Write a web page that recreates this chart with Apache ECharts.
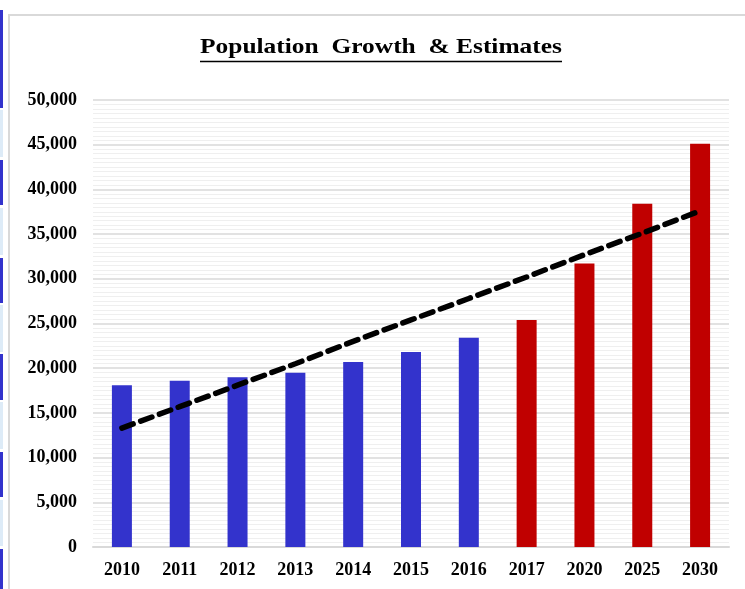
<!DOCTYPE html>
<html>
<head>
<meta charset="utf-8">
<script src="https://cdn.jsdelivr.net/npm/echarts@6/dist/echarts.min.js"></script>
<style>
html,body{margin:0;padding:0;background:#fff;}
#chart{width:745px;height:589px;}
</style>
</head>
<body>
<div id="chart"></div>
<script>
const categories = ['2010','2011','2012','2013','2014','2015','2016','2017','2020','2025','2030'];
const population = [18100, 18600, 19000, 19500, 20700, 21800, 23400, 25400, 31700, 38400, 45100];
const trend = [13300, 15700, 18100, 20500, 23000, 25400, 27800, 30200, 32700, 35100, 37600];
const kind = ['actual','actual','actual','actual','actual','actual','actual','estimate','estimate','estimate','estimate'];
const yTicks = [0, 5000, 10000, 15000, 20000, 25000, 30000, 35000, 40000, 45000, 50000];
const titleText = 'Population  Growth  & Estimates';

const chart = echarts.init(document.getElementById('chart'));
const serif = '"Liberation Serif","Times New Roman",serif';

// measure title width for underline
const ctx = document.createElement('canvas').getContext('2d');
ctx.font = 'bold 21px "Liberation Serif"';
const tw = ctx.measureText(titleText).width;
const targetW = 362;
const sx = targetW / tw;
const tcx = 381;

// left strip (neighbouring sheet edge)
const strip = [];
const stripBlue = [[10,108],[160,205],[258,303],[354,400],[452,497],[549,589]];
const stripLight = [[110,157],[208,255],[305,352],[402,449],[500,546]];
stripBlue.forEach(s => strip.push({type:'rect', shape:{x:0,y:s[0],width:3,height:s[1]-s[0]}, style:{fill:'#3333CC'}, silent:true}));
stripLight.forEach(s => strip.push({type:'rect', shape:{x:0,y:s[0],width:3,height:s[1]-s[0]}, style:{fill:'#DDEBF7'}, silent:true}));

chart.setOption({
  animation: false,
  backgroundColor: '#fff',
  grid: {left: 93, right: 16, top: 100, bottom: 42, containLabel: false},
  graphic: [
    {type:'rect', shape:{x:9,y:15,width:800,height:700}, style:{fill:'none', stroke:'#d9d9d9', lineWidth:2}, silent:true},
    ...strip,
    {type:'text', x: tcx, y: 58, scaleX: sx, scaleY: 1, style:{text:titleText, font:'bold 21px "Liberation Serif"', fill:'#000', textAlign:'center', textVerticalAlign:'bottom'}},
    {type:'line', shape:{x1:tcx - targetW/2, y1:61.5, x2:tcx + targetW/2, y2:61.5}, style:{stroke:'#000', lineWidth:1.5}}
  ],
  xAxis: {
    type: 'category',
    data: categories,
    boundaryGap: true,
    axisLine: {lineStyle: {color: '#d9d9d9', width: 2}},
    axisTick: {show: false},
    axisLabel: {color: '#000', fontFamily: serif, fontWeight: 'bold', fontSize: 18, margin: 14}
  },
  yAxis: {
    type: 'value',
    min: yTicks[0],
    max: yTicks[yTicks.length-1],
    interval: 5000,
    axisLine: {show: false},
    axisTick: {show: false},
    axisLabel: {
      color: '#000', fontFamily: serif, fontWeight: 'bold', fontSize: 18, margin: 16,
      formatter: v => v.toLocaleString('en-US')
    },
    splitLine: {lineStyle: {color: '#d9d9d9', width: 1.5}},
    minorTick: {show: false, splitNumber: 10},
    minorSplitLine: {show: true, lineStyle: {color: '#efefef', width: 1}}
  },
  series: [
    {
      type: 'bar',
      data: population,
      barWidth: 20,
      itemStyle: {color: p => kind[p.dataIndex] === 'actual' ? '#3333CC' : '#C00000'},
      z: 2
    },
    {
      type: 'line',
      data: trend,
      symbol: 'none',
      lineStyle: {color: '#000', width: 5.5, type: [12, 8], cap: 'round'},
      z: 3
    }
  ]
});
</script>
</body>
</html>
